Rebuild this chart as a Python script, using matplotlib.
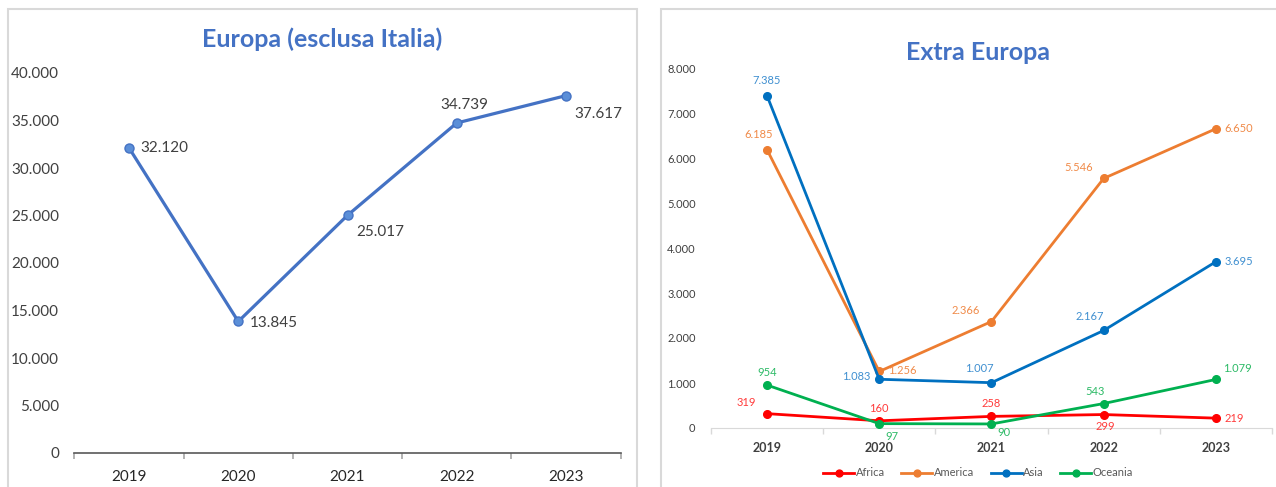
import matplotlib
matplotlib.use("Agg")
import matplotlib.pyplot as plt
from matplotlib.patches import Rectangle
from matplotlib.lines import Line2D

plt.rcParams['font.family'] = ['Lato', 'DejaVu Sans']

years = ["2019", "2020", "2021", "2022", "2023"]
europa = [32120, 13845, 25017, 34739, 37617]
africa = [319, 160, 258, 299, 219]
america = [6185, 1256, 2366, 5546, 6650]
asia = [7385, 1083, 1007, 2167, 3695]
oceania = [954, 97, 90, 543, 1079]

europa_ticks = [0, 5000, 10000, 15000, 20000, 25000, 30000, 35000, 40000]
extra_ticks = [0, 1000, 2000, 3000, 4000, 5000, 6000, 7000, 8000]


def fmt(v):
    return f"{v:,}".replace(",", ".")


W, H = 1276, 487
fig = plt.figure(figsize=(W / 100, H / 100), dpi=100)

# panel borders
for (x0, x1) in [(8, 637), (661, 1290)]:
    fig.patches.append(Rectangle((x0 / W, -0.05), (x1 - x0) / W, (H - 9) / H + 0.05,
                                 transform=fig.transFigure, fill=False,
                                 edgecolor="#D9D9D9", lw=1.5))

xs = list(range(len(years)))

# ---------- Left ----------
ax1 = fig.add_axes([74.4 / W, 1 - 453 / H, (620.6 - 74.4) / W, (453 - 73) / H])
ax1.plot(xs, europa, color="#4472C4", lw=2.3, marker="o", ms=6.5,
         markerfacecolor="#5B8FD8", markeredgecolor="#4472C4", zorder=3)
ax1.set_xlim(-0.5, 4.5)
ax1.set_ylim(0, 40000)
ax1.set_yticks(europa_ticks)
ax1.set_yticklabels([fmt(v) for v in europa_ticks])
ax1.set_xticks(xs)
ax1.set_xticklabels(years)
ax1.set_xticks([i - 0.5 for i in range(6)], minor=True)
ax1.tick_params(axis="y", length=0, labelsize=11, labelcolor="#404040", pad=11)
ax1.tick_params(axis="x", which="major", length=0, labelsize=11, labelcolor="#262626", pad=12)
ax1.tick_params(axis="x", which="minor", length=4, color="#A6A6A6", width=1.2)
for s in ["top", "right", "left"]:
    ax1.spines[s].set_visible(False)
ax1.spines["bottom"].set_color("#595959")
ax1.spines["bottom"].set_linewidth(1.2)

offs1 = [(8, 0, "left", "center"), (8, -1, "left", "center"), (6, -12, "left", "center"),
         (-12, 8, "left", "bottom"), (6, -13, "left", "center")]
for x, v, (dx, dy, ha, va) in zip(xs, europa, offs1):
    ax1.annotate(fmt(v), (x, v), xytext=(dx, dy), textcoords="offset points",
                 ha=ha, va=va, fontsize=11, color="#404040")

fig.text(322 / W, 1 - 39 / H, "Europa (esclusa Italia)", ha="center", va="center",
         fontsize=18, fontweight="bold", color="#4472C4")

# ---------- Right ----------
ax2 = fig.add_axes([710.9 / W, 1 - 428 / H, (1272 - 710.9) / W, (428 - 68) / H])
series = [("Africa", africa, "#FF0000"), ("America", america, "#ED7D31"),
          ("Asia", asia, "#0070C0"), ("Oceania", oceania, "#00B050")]
handles = []
for name, vals, col in series:
    h, = ax2.plot(xs, vals, color=col, lw=2.0, marker="o", ms=5.5, label=name, zorder=3)
    handles.append(h)
ax2.set_xlim(-0.5, 4.5)
ax2.set_ylim(0, 8000)
ax2.set_yticks(extra_ticks)
ax2.set_yticklabels([fmt(v) for v in extra_ticks])
ax2.set_xticks(xs)
ax2.set_xticklabels(years, fontweight="bold")
ax2.set_xticks([i - 0.5 for i in range(6)], minor=True)
ax2.tick_params(axis="y", length=0, labelsize=8, labelcolor="#404040", pad=11)
ax2.tick_params(axis="x", which="major", length=0, labelsize=9, labelcolor="#404040", pad=10)
ax2.tick_params(axis="x", which="minor", length=4, color="#D9D9D9", width=1)
for s in ["top", "right", "left"]:
    ax2.spines[s].set_visible(False)
ax2.spines["bottom"].set_color("#D9D9D9")

label_offsets = {
    "Africa": [(-8, 4, "right", "bottom"), (0, 5, "center", "bottom"), (0, 5, "center", "bottom"),
               (1, -5, "center", "top"), (6, 0, "left", "center")],
    "America": [(-6, 7, "center", "bottom"), (6, 1, "left", "center"), (-8, 4, "right", "bottom"),
                (-8, 4, "right", "bottom"), (6, 0, "left", "center")],
    "Asia": [(0, 7, "center", "bottom"), (-6, 2, "right", "center"), (-9, 6, "center", "bottom"),
             (-10, 6, "center", "bottom"), (6, 0, "left", "center")],
    "Oceania": [(0, 5, "center", "bottom"), (9, -5, "center", "top"), (9, -2, "center", "top"),
                (-6, 5, "center", "bottom"), (5, 4, "left", "bottom")],
}
label_cols = {"Africa": "#FF3B3B", "America": "#F08A48", "Asia": "#3F8FD0", "Oceania": "#2CBA66"}
for name, vals, col in series:
    for x, v, (dx, dy, ha, va) in zip(xs, vals, label_offsets[name]):
        ax2.annotate(fmt(v), (x, v), xytext=(dx, dy), textcoords="offset points",
                     ha=ha, va=va, fontsize=8, color=label_cols[name])

fig.text(978 / W, 1 - 53 / H, "Extra Europa", ha="center", va="center",
         fontsize=18, fontweight="bold", color="#4472C4")

fig.legend(handles=handles, loc="center", bbox_to_anchor=(978 / W, 1 - 473 / H),
           ncol=4, frameon=False, fontsize=8, labelcolor="#595959",
           handlelength=2.8, handletextpad=0.1, columnspacing=1.5, markerscale=0.9)

fig.savefig("out.png", dpi=100)
